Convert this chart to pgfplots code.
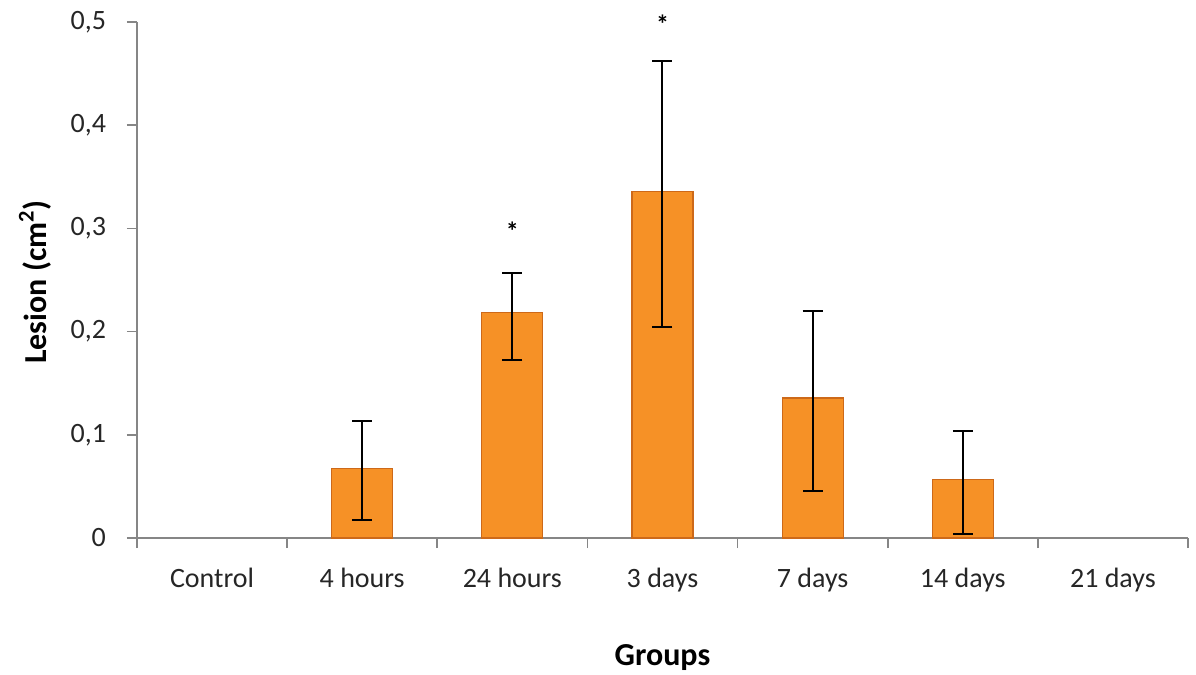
\documentclass[border=0pt]{standalone}
\usepackage{pgfplots}
\pgfplotsset{compat=1.18}
\usepackage{fontspec}
\setmainfont{Carlito}
\definecolor{axgray}{RGB}{134,134,134}
\definecolor{barfill}{RGB}{246,145,38}
\definecolor{baredge}{RGB}{205,105,25}
\begin{document}
\begin{tikzpicture}[x=1pt,y=1pt]
\useasboundingbox (-68.5,-68.5) rectangle (529.5,269);
\begin{axis}[
  at={(0,0)}, anchor=south west,
  scale only axis,
  width=525.5pt, height=258pt,
  xmin=-0.5, xmax=6.5,
  ymin=0, ymax=0.5,
  axis x line=bottom, axis y line=left,
  axis line style={-, draw=axgray, line width=0.8pt},
  xtick={0,...,6},
  xticklabels={Control,4 hours,24 hours,3 days,7 days,14 days,21 days},
  minor xtick={-0.5,0.5,...,6.5},
  major x tick style={draw=none},
  minor tick length=5pt,
  major tick length=5pt,
  tick align=outside,
  tick style={axgray, line width=0.8pt},
  ytick={0,0.1,...,0.5},
  yticklabel style={xshift=-7pt, /pgf/number format/.cd, fixed, precision=1, use comma, assume math mode=true},
  xticklabel style={anchor=base, yshift=-19.5pt},
  ticklabel style={font=\fontsize{14}{16}\selectfont, text=black!85},
  ylabel={\textbf{Lesion (cm\textsuperscript{2})}},
  xlabel={\textbf{Groups}},
  label style={font=\fontsize{16}{18}\selectfont},
  ylabel style={at={(axis description cs:-0.097,0.496)}, anchor=center},
  xlabel style={at={(axis description cs:0.5,-0.231)}, anchor=center},
  clip=false,
]
\addplot[ybar, bar width=30.5pt, draw=baredge, line width=0.6pt, fill=barfill,
  error bars/.cd, y dir=both, y explicit,
  error bar style={black, line width=1pt},
  error mark options={black, line width=1pt, mark size=5pt, rotate=90}]
coordinates {
 (1,0.0675) += (0,0.0455) -= (0,0.0501)
 (2,0.2183) += (0,0.0385) -= (0,0.0463)
 (3,0.3356) += (0,0.1264) -= (0,0.1308)
 (4,0.1357) += (0,0.0843) -= (0,0.0902)
 (5,0.0569) += (0,0.0471) -= (0,0.0530)
};
\node[font=\fontsize{13}{13}\selectfont\bfseries] at (axis cs:2,0.297) {*};
\node[font=\fontsize{13}{13}\selectfont\bfseries] at (axis cs:3,0.498) {*};
\end{axis}
\end{tikzpicture}
\end{document}
